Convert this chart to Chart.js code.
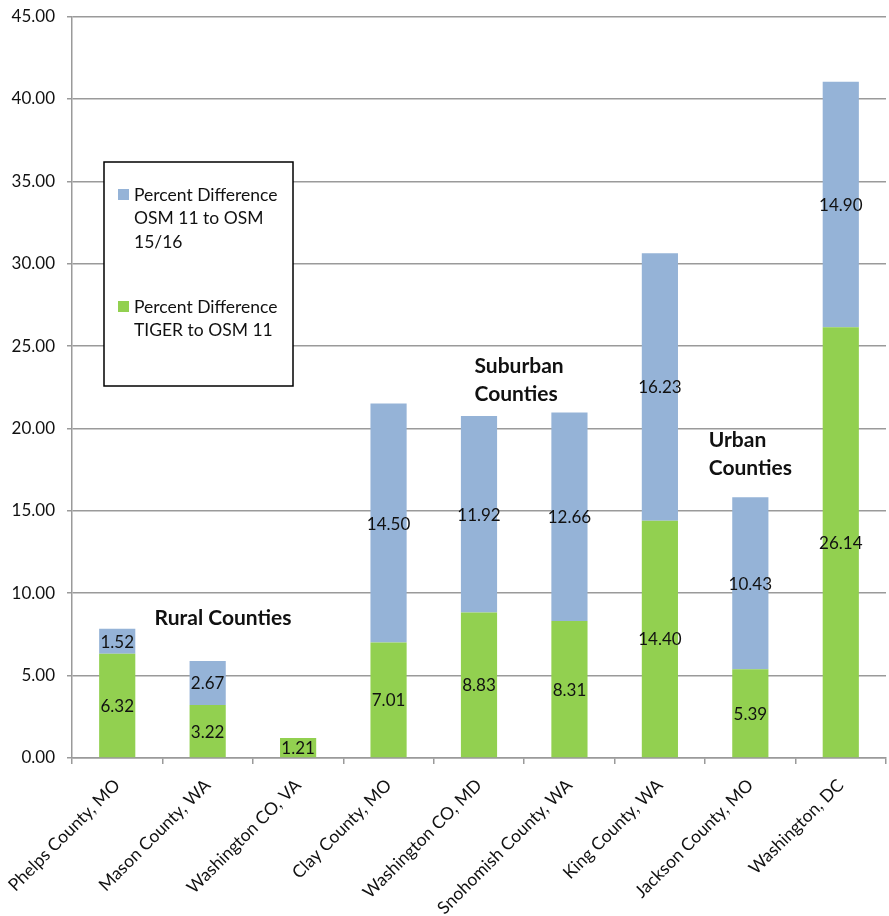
<!DOCTYPE html>
<html>
<head>
<meta charset="utf-8">
<script src="https://cdn.jsdelivr.net/npm/chart.js@4/dist/chart.umd.min.js"></script>
<style>
  html, body { margin: 0; padding: 0; background: #fff; }
  #wrap { position: relative; width: 889px; height: 916px; }
</style>
</head>
<body>
<div id="wrap"><canvas id="chart" width="889" height="916"></canvas></div>
<script>
// Counties compared
const counties = [
  'Phelps County, MO', 'Mason County, WA', 'Washington CO, VA',
  'Clay County, MO', 'Washington CO, MD', 'Snohomish County, WA',
  'King County, WA', 'Jackson County, MO', 'Washington, DC'
];
// Percent difference TIGER to OSM 11 (lower segment)
const tigerToOsm11 = [6.32, 3.22, 1.21, 7.01, 8.83, 8.31, 14.40, 5.39, 26.14];
// Percent difference OSM 11 to OSM 15/16 (upper segment)
const osm11ToOsm1516 = [1.52, 2.67, 0, 14.50, 11.92, 12.66, 16.23, 10.43, 14.90];
// Y axis ticks
const yTicks = [0, 5, 10, 15, 20, 25, 30, 35, 40, 45];
// Group captions
const groupNames = [['Rural Counties'], ['Suburban', 'Counties'], ['Urban', 'Counties']];

const FONT = 'Lato, "Open Sans", sans-serif';
const BLUE = '#95b3d7';
const GREEN = '#92d050';
const GRID = '#9a9a9a';

// Writes each segment's value in the middle of its bar
const valueLabels = {
  id: 'valueLabels',
  afterDatasetsDraw(chart) {
    const ctx = chart.ctx;
    ctx.save();
    ctx.font = '17px ' + FONT;
    ctx.fillStyle = '#111';
    ctx.textAlign = 'center';
    ctx.textBaseline = 'middle';
    chart.data.datasets.forEach((ds, di) => {
      const meta = chart.getDatasetMeta(di);
      meta.data.forEach((bar, i) => {
        const v = ds.data[i];
        if (!v) return;
        const p = bar.getProps(['x', 'y', 'base'], true);
        ctx.fillText(v.toFixed(2), p.x, (p.y + p.base) / 2 + 1);
      });
    });
    ctx.restore();
  }
};

// Boxed legend inside the plot and the group captions
const overlay = {
  id: 'overlay',
  afterDraw(chart, args, opts) {
    const ctx = chart.ctx;
    const xs = chart.scales.x, ys = chart.scales.y;
    ctx.save();
    // legend box
    const L = opts.legend;
    ctx.fillStyle = '#fff';
    ctx.fillRect(L.left, L.top, L.width, L.height);
    ctx.strokeStyle = '#000';
    ctx.lineWidth = 1.5;
    ctx.strokeRect(L.left, L.top, L.width, L.height);
    ctx.font = '17.5px ' + FONT;
    ctx.textBaseline = 'middle';
    ctx.textAlign = 'left';
    L.items.forEach(item => {
      const ds = chart.data.datasets[item.dataset];
      ctx.fillStyle = ds.backgroundColor;
      ctx.fillRect(L.left + 14, item.y - 6, 11, 11);
      ctx.fillStyle = '#111';
      ds.legendLines.forEach((line, k) => {
        ctx.fillText(line, L.left + 30, item.y + k * L.lineHeight);
      });
    });
    // group captions
    ctx.font = 'bold 21px ' + FONT;
    ctx.fillStyle = '#111';
    opts.groups.forEach((g, gi) => {
      const lines = groupNames[gi];
      ctx.textAlign = g.align;
      const x = xs.getPixelForValue(g.x);
      const y = ys.getPixelForValue(g.y);
      lines.forEach((line, k) => ctx.fillText(line, x, y + k * 28));
    });
    ctx.restore();
  }
};

new Chart(document.getElementById('chart'), {
  type: 'bar',
  data: {
    labels: counties,
    datasets: [
      {
        label: 'Percent Difference TIGER to OSM 11',
        legendLines: ['Percent Difference', 'TIGER to OSM 11'],
        data: tigerToOsm11,
        backgroundColor: GREEN,
        barPercentage: 0.4,
        categoryPercentage: 1
      },
      {
        label: 'Percent Difference OSM 11 to OSM 15/16',
        legendLines: ['Percent Difference', 'OSM 11 to OSM', '15/16'],
        data: osm11ToOsm1516,
        backgroundColor: BLUE,
        barPercentage: 0.4,
        categoryPercentage: 1
      }
    ]
  },
  options: {
    responsive: false,
    animation: false,
    layout: { padding: { top: 16.5, right: 3, left: 0, bottom: 0 } },
    plugins: {
      legend: { display: false },
      tooltip: { enabled: false },
      overlay: {
        legend: {
          left: 104, top: 162, width: 189, height: 224, lineHeight: 23.5,
          items: [{ dataset: 1, y: 195 }, { dataset: 0, y: 307 }]
        },
        groups: [
          { x: 1.17, y: 8.5, align: 'center' },
          { x: 3.95, y: 23.8, align: 'left' },
          { x: 6.54, y: 19.3, align: 'left' }
        ]
      }
    },
    scales: {
      x: {
        stacked: true,
        grid: {
          offset: true,
          drawOnChartArea: false,
          color: GRID,
          lineWidth: 1.5,
          tickLength: 6
        },
        border: { color: GRID, width: 1.5 },
        ticks: {
          color: '#111',
          font: { family: FONT, size: 17.5 },
          minRotation: 45,
          maxRotation: 45,
          padding: 11
        },
        afterFit(scale) {
          scale.height = 158;
          scale.paddingLeft = 0;
          scale.paddingRight = 0;
        }
      },
      y: {
        stacked: true,
        min: 0,
        max: 45,
        afterBuildTicks(scale) { scale.ticks = yTicks.map(v => ({ value: v })); },
        grid: { color: GRID, lineWidth: 1.5, tickLength: 5 },
        border: { color: GRID, width: 1.5 },
        ticks: {
          color: '#111',
          font: { family: FONT, size: 17 },
          padding: 12,
          callback: v => Number(v).toFixed(2)
        },
        afterFit(scale) {
          scale.width = 72;
          scale.paddingTop = 0;
          scale.paddingBottom = 0;
        }
      }
    }
  },
  plugins: [valueLabels, overlay]
});
</script>
</body>
</html>
